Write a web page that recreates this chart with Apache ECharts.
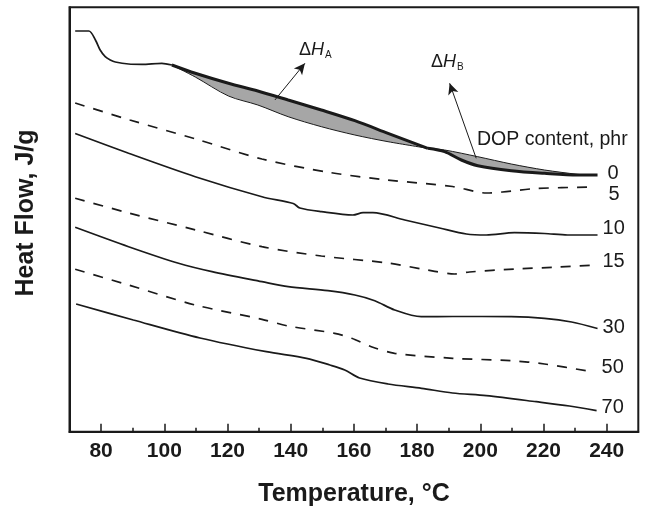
<!DOCTYPE html>
<html>
<head>
<meta charset="utf-8">
<script src="https://cdn.jsdelivr.net/npm/echarts@6/dist/echarts.min.js"></script>
<style>
  html, body { margin: 0; padding: 0; background: #fff; }
  #chart { width: 647px; height: 511px; }
</style>
</head>
<body>
<div id="chart"></div>
<script>
// temperature in °C, heat flow in arbitrary offset units (curves stacked)
const tempTicks = [80, 100, 120, 140, 160, 180, 200, 220, 240];
const tempMinor = [90, 110, 130, 150, 170, 190, 210, 230];

const dop0Start = [[71.8, 400.7], [76.1, 400.7], [78.2, 391.7], [79.7, 381.7], [81.3, 375],
  [82.9, 371.7], [84.5, 369.7], [88.7, 367.7], [92.9, 367.4], [99.2, 368.4], [102.4, 366.7]];
const peakUpperA = [[102.4, 366.7], [109.8, 358.4], [120.3, 348.4], [129.6, 340.7], [139.2, 331.7],
  [149.7, 321.7], [160.3, 311], [170.8, 298.4], [183.4, 283.4]];
const peakLowerA = [[102.4, 366.7], [109.8, 354.7], [120.3, 335.7], [129.6, 326.7], [139.2, 315],
  [149.7, 305], [160.3, 296.7], [170.8, 290], [183.4, 283.4]];
const peakUpperB = [[183.4, 283.4], [188.7, 281.7], [199.2, 275], [209.8, 267.7], [220.3, 261.7],
  [230.8, 257.4], [234.5, 256.7]];
const peakLowerB = [[183.4, 283.4], [188.7, 280], [194, 271.7], [199.2, 266], [209.8, 261],
  [220.3, 258.4], [230.8, 256.7], [237.1, 256.7]];

const dop5 = [[71.8, 328.7], [89.1, 311.7], [110, 292.7], [130.9, 272.7], [152.4, 259.2],
  [170.7, 251.7], [191.2, 245.2], [202, 238.7], [207, 239.7], [217.8, 243.2], [236.1, 244.7]];
const dop10 = [[71.8, 298.2], [88.7, 278.4], [109.8, 255], [130.9, 235], [140.8, 228.2],
  [142.9, 223.7], [149.7, 220], [159.7, 216.7], [162.9, 219], [166, 219], [176.1, 211.7],
  [187.1, 203.7], [195.6, 197.7], [201.9, 196.7], [210.8, 199], [220.3, 198.2], [227.6, 196.7],
  [237.1, 196.7]];
const dop15 = [[71.8, 233.4], [89.1, 218.4], [110, 201.7], [130.9, 185], [149.7, 175.7],
  [170.7, 168.7], [183.3, 161.7], [191.9, 157.7], [196.6, 159.7], [210.8, 162.7], [225.1, 164.7],
  [236.1, 166.7]];
const dop30 = [[71.8, 204.4], [88.7, 185], [104.5, 168.4], [115.1, 160], [130.9, 150],
  [139.2, 145], [151.8, 141], [160.3, 136.7], [166.6, 131], [172.9, 121.7], [181.3, 115],
  [191.3, 115.2], [209.8, 115], [220.3, 113.4], [228.9, 109.7], [237.1, 103.2]];
const dop50 = [[71.8, 162.4], [88.7, 146.7], [109.8, 126.7], [130.9, 112.4], [139.2, 105.7],
  [153.9, 98.4], [159.3, 93.4], [165.5, 85], [172.9, 78.4], [191.3, 73.4], [209.8, 71],
  [220.3, 67.7], [235.2, 60]];
const dop70 = [[72.1, 127.7], [90.2, 111.7], [111.3, 93.7], [132.3, 80], [145, 73.4],
  [152.4, 66.7], [157.1, 61.7], [161.8, 53.7], [170.8, 47.7], [181.4, 43.4], [191.2, 38.7],
  [201.9, 36], [217.7, 30], [228.2, 25.7], [236.8, 21]];

// arrows: [tail, head]
const arrowA = [[135, 331.7], [144.5, 368.4]];
const arrowB = [[198.7, 273.4], [190.3, 348.4]];

const FONT = "'Liberation Sans', Arial, sans-serif";
const INK = '#1a1a1a';

const chart = echarts.init(document.getElementById('chart'));

function curve(name, data, opts) {
  opts = opts || {};
  const s = {
    name: name,
    type: 'line',
    data: data,
    showSymbol: false,
    smooth: 0.3,
    silent: true,
    z: 3,
    lineStyle: { color: INK, width: opts.width || 1.7, type: opts.dashed ? [10, 9] : 'solid' }
  };
  if (opts.label !== undefined) {
    s.endLabel = {
      show: true,
      formatter: opts.label,
      distance: opts.dist || 4,
      offset: [0, opts.dy || 0],
      fontFamily: FONT,
      fontSize: 20,
      color: INK
    };
  }
  return s;
}

function fillBetween(upper, lower) {
  return {
    type: 'custom',
    silent: true,
    z: 2,
    data: [upper[0]],
    renderItem: function (params, api) {
      const pts = upper.concat(lower.slice().reverse()).map(function (p) { return api.coord(p); });
      return { type: 'polygon', shape: { points: pts }, style: { fill: '#a6a6a6' } };
    }
  };
}

chart.setOption({
  animation: false,
  backgroundColor: '#fff',
  grid: {
    left: 69.5, right: 8.7, top: 7.3, bottom: 79.3,
    show: true, borderColor: INK, borderWidth: 2, backgroundColor: 'transparent'
  },
  xAxis: [
    {
      type: 'value', min: 70, max: 250,
      axisLine: { show: true, lineStyle: { color: INK, width: 2 } },
      axisTick: { show: true, inside: true, length: 8, customValues: tempTicks, lineStyle: { color: INK, width: 1.5 } },
      axisLabel: { customValues: tempTicks, fontFamily: FONT, fontSize: 21, fontWeight: 'bold', color: INK, margin: 9 },
      splitLine: { show: false }
    },
    {
      type: 'value', min: 70, max: 250, position: 'bottom',
      axisLine: { show: false },
      axisTick: { show: true, inside: true, length: 4, customValues: tempMinor, lineStyle: { color: INK, width: 1.5 } },
      axisLabel: { show: false },
      splitLine: { show: false }
    }
  ],
  yAxis: {
    type: 'value', min: 0, max: 424.4,
    axisLine: { show: true, lineStyle: { color: INK, width: 2 } },
    axisTick: { show: false },
    axisLabel: { show: false },
    splitLine: { show: false }
  },
  series: [
    fillBetween(peakUpperA, peakLowerA),
    fillBetween(peakUpperB, peakLowerB),
    curve('0 start', dop0Start),
    curve('upper A', peakUpperA, { width: 3 }),
    curve('lower A', peakLowerA, { width: 1 }),
    curve('upper B', peakUpperB, { width: 1 }),
    curve('0', peakLowerB, { width: 3, label: '0', dy: -2, dist: 10 }),
    curve('5', dop5, { dashed: true, label: '5', dy: 7, dist: 14 }),
    curve('10', dop10, { label: '10', dy: -7, dist: 5 }),
    curve('15', dop15, { dashed: true, label: '15', dy: -4, dist: 8 }),
    curve('30', dop30, { label: '30', dy: -1, dist: 5 }),
    curve('50', dop50, { dashed: true, label: '50', dy: -4, dist: 10 }),
    curve('70', dop70, { label: '70', dy: -3, dist: 5 }),
    {
      type: 'line', data: [], silent: true, z: 4,
      markLine: {
        silent: true,
        symbol: ['none', 'arrow'],
        symbolSize: [8, 11],
        label: { show: false },
        lineStyle: { color: INK, width: 1, type: 'solid' },
        data: [
          [{ coord: arrowA[0] }, { coord: arrowA[1] }],
          [{ coord: arrowB[0] }, { coord: arrowB[1] }]
        ]
      }
    }
  ],
  graphic: [
    {
      type: 'text', left: 299, top: 41,
      style: {
        text: '{d|Δ}{h|H}{s|A}',
        rich: {
          d: { fontFamily: FONT, fontSize: 18, fill: INK },
          h: { fontFamily: FONT, fontSize: 18, fontStyle: 'italic', fill: INK },
          s: { fontFamily: FONT, fontSize: 10, fill: INK, padding: [10, 0, 0, 1] }
        }
      }
    },
    {
      type: 'text', left: 431, top: 53,
      style: {
        text: '{d|Δ}{h|H}{s|B}',
        rich: {
          d: { fontFamily: FONT, fontSize: 18, fill: INK },
          h: { fontFamily: FONT, fontSize: 18, fontStyle: 'italic', fill: INK },
          s: { fontFamily: FONT, fontSize: 10, fill: INK, padding: [10, 0, 0, 1] }
        }
      }
    },
    {
      type: 'text', left: 477, top: 130,
      style: { text: 'DOP content, phr', fontFamily: FONT, fontSize: 19.5, fill: INK }
    },
    {
      type: 'text', x: 354, y: 494,
      style: {
        text: 'Temperature, °C', fontFamily: FONT, fontSize: 25, fontWeight: 'bold',
        fill: INK, align: 'center', verticalAlign: 'middle'
      }
    },
    {
      type: 'text', x: 26, y: 213, rotation: Math.PI / 2,
      style: {
        text: 'Heat Flow, J/g', fontFamily: FONT, fontSize: 25, fontWeight: 'bold',
        fill: INK, align: 'center', verticalAlign: 'middle'
      }
    }
  ]
});
</script>
</body>
</html>
